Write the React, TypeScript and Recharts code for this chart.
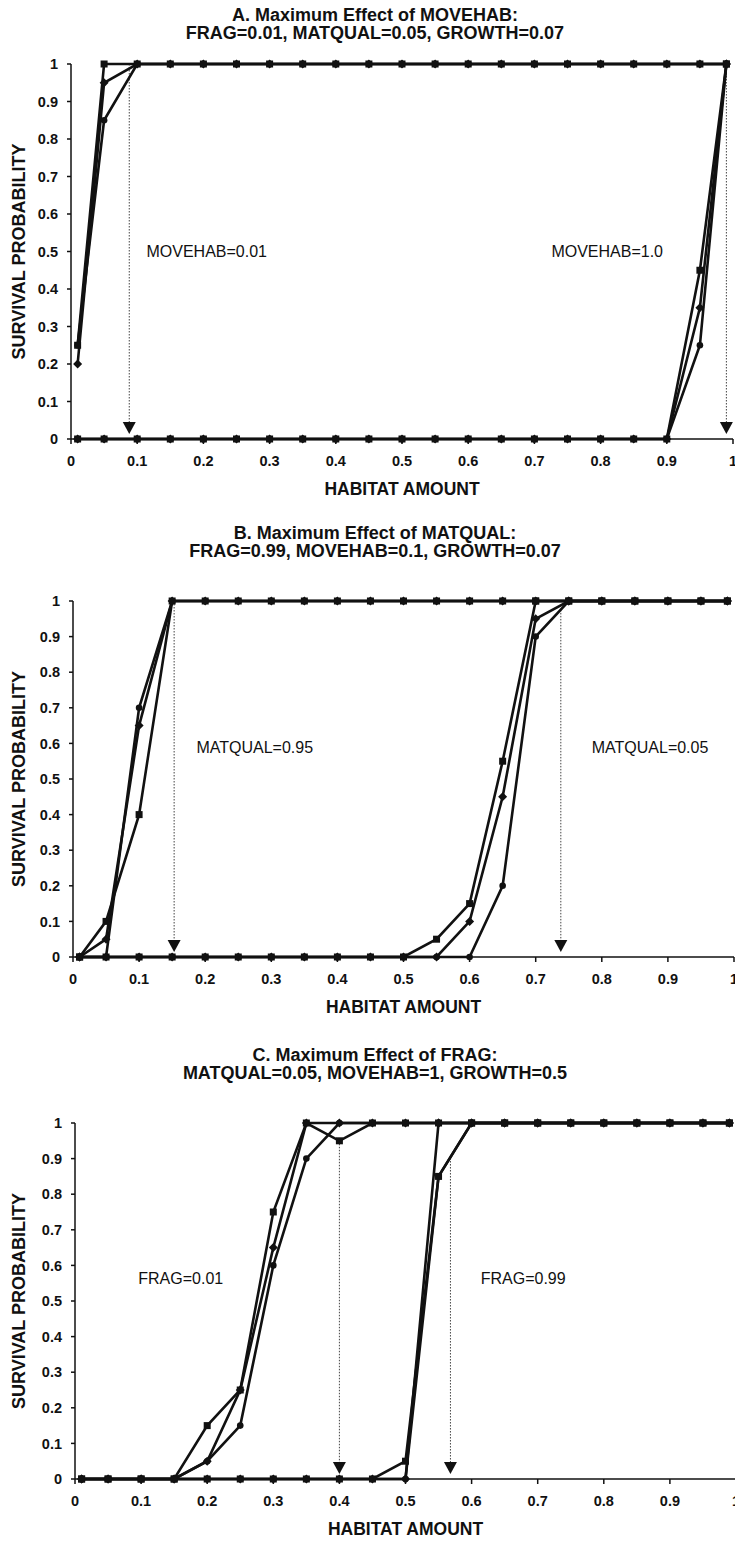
import React from "react";
import { LineChart, Line, XAxis, YAxis, ReferenceLine, ReferenceDot } from "recharts";

const FONT = "'Liberation Sans', Arial, Helvetica, sans-serif";
const INK = "#111";

// habitat amounts sampled by the model
const HABITAT = [0.01, 0.05, 0.1, 0.15, 0.2, 0.25, 0.3, 0.35, 0.4, 0.45, 0.5, 0.55, 0.6, 0.65, 0.7, 0.75, 0.8, 0.85, 0.9, 0.95, 0.99];
const X_TICKS = [0, 0.1, 0.2, 0.3, 0.4, 0.5, 0.6, 0.7, 0.8, 0.9, 1];
const Y_TICKS = [0, 0.1, 0.2, 0.3, 0.4, 0.5, 0.6, 0.7, 0.8, 0.9, 1];

// A. MOVEHAB
const A_MOVE_LOW_1 = [0.25, 1, 1, 1, 1, 1, 1, 1, 1, 1, 1, 1, 1, 1, 1, 1, 1, 1, 1, 1, 1];
const A_MOVE_LOW_2 = [0.2, 0.95, 1, 1, 1, 1, 1, 1, 1, 1, 1, 1, 1, 1, 1, 1, 1, 1, 1, 1, 1];
const A_MOVE_LOW_3 = [0.25, 0.85, 1, 1, 1, 1, 1, 1, 1, 1, 1, 1, 1, 1, 1, 1, 1, 1, 1, 1, 1];
const A_MOVE_HIGH_1 = [0, 0, 0, 0, 0, 0, 0, 0, 0, 0, 0, 0, 0, 0, 0, 0, 0, 0, 0, 0.45, 1];
const A_MOVE_HIGH_2 = [0, 0, 0, 0, 0, 0, 0, 0, 0, 0, 0, 0, 0, 0, 0, 0, 0, 0, 0, 0.35, 1];
const A_MOVE_HIGH_3 = [0, 0, 0, 0, 0, 0, 0, 0, 0, 0, 0, 0, 0, 0, 0, 0, 0, 0, 0, 0.25, 1];

// B. MATQUAL
const B_MAT_HIGH_1 = [0, 0.1, 0.4, 1, 1, 1, 1, 1, 1, 1, 1, 1, 1, 1, 1, 1, 1, 1, 1, 1, 1];
const B_MAT_HIGH_2 = [0, 0.05, 0.65, 1, 1, 1, 1, 1, 1, 1, 1, 1, 1, 1, 1, 1, 1, 1, 1, 1, 1];
const B_MAT_HIGH_3 = [0, 0, 0.7, 1, 1, 1, 1, 1, 1, 1, 1, 1, 1, 1, 1, 1, 1, 1, 1, 1, 1];
const B_MAT_LOW_1 = [0, 0, 0, 0, 0, 0, 0, 0, 0, 0, 0, 0.05, 0.15, 0.55, 1, 1, 1, 1, 1, 1, 1];
const B_MAT_LOW_2 = [0, 0, 0, 0, 0, 0, 0, 0, 0, 0, 0, 0, 0.1, 0.45, 0.95, 1, 1, 1, 1, 1, 1];
const B_MAT_LOW_3 = [0, 0, 0, 0, 0, 0, 0, 0, 0, 0, 0, 0, 0, 0.2, 0.9, 1, 1, 1, 1, 1, 1];

// C. FRAG
const C_FRAG_LOW_1 = [0, 0, 0, 0, 0.15, 0.25, 0.75, 1, 0.95, 1, 1, 1, 1, 1, 1, 1, 1, 1, 1, 1, 1];
const C_FRAG_LOW_2 = [0, 0, 0, 0, 0.05, 0.25, 0.65, 1, 1, 1, 1, 1, 1, 1, 1, 1, 1, 1, 1, 1, 1];
const C_FRAG_LOW_3 = [0, 0, 0, 0, 0.05, 0.15, 0.6, 0.9, 1, 1, 1, 1, 1, 1, 1, 1, 1, 1, 1, 1, 1];
const C_FRAG_HIGH_1 = [0, 0, 0, 0, 0, 0, 0, 0, 0, 0, 0.05, 0.85, 1, 1, 1, 1, 1, 1, 1, 1, 1];
const C_FRAG_HIGH_2 = [0, 0, 0, 0, 0, 0, 0, 0, 0, 0, 0, 1, 1, 1, 1, 1, 1, 1, 1, 1, 1];
const C_FRAG_HIGH_3 = [0, 0, 0, 0, 0, 0, 0, 0, 0, 0, 0, 0.85, 1, 1, 1, 1, 1, 1, 1, 1, 1];

const tickFmt = (v: number) => String(Math.round(v * 10) / 10);

type Marker = "square" | "diamond" | "circle";

function makeDot(kind: Marker) {
  return (p: any) => {
    const { cx, cy, index } = p;
    if (cx == null || cy == null) return <g key={`n-${index}`} />;
    if (kind === "square")
      return <rect key={`s-${index}`} x={cx - 3.5} y={cy - 3.5} width={7} height={7} fill={INK} />;
    if (kind === "diamond")
      return (
        <polygon
          key={`d-${index}`}
          points={`${cx},${cy - 4.5} ${cx + 4.5},${cy} ${cx},${cy + 4.5} ${cx - 4.5},${cy}`}
          fill={INK}
        />
      );
    return <circle key={`c-${index}`} cx={cx} cy={cy} r={3.3} fill={INK} />;
  };
}

const MARKERS: Marker[] = ["square", "diamond", "circle"];

const arrowHead = (p: any) => {
  const { cx, cy } = p;
  return (
    <polygon
      points={`${cx - 6.5},${cy - 17} ${cx + 6.5},${cy - 17} ${cx},${cy - 5}`}
      fill={INK}
    />
  );
};

type Note = { x: number; y: number; text: string };
type Arrow = { x: number; from: number };

type PanelProps = {
  titleTop: number;
  title1: string;
  title2: string;
  plotTop: number;
  plotLeft: number;
  plotWidth: number;
  plotHeight: number;
  series: number[][];
  notes: Note[];
  arrows: Arrow[];
};

const CHART_W = 790;
const TOP_PAD = 12;
const X_AXIS_H = 60;

function Panel({ titleTop, title1, title2, plotTop, plotLeft, plotWidth, plotHeight, series, notes, arrows }: PanelProps) {
  const rows = HABITAT.map((h, i) => {
    const r: Record<string, number> = { h };
    series.forEach((s, k) => (r[`s${k}`] = s[i]));
    return r;
  });
  const titleStyle: React.CSSProperties = {
    position: "absolute",
    left: 0,
    width: 750,
    textAlign: "center",
    fontFamily: FONT,
    fontWeight: "bold",
    fontSize: 18,
    lineHeight: "18px",
    color: INK,
    whiteSpace: "nowrap",
  };
  return (
    <>
      <div style={{ ...titleStyle, top: titleTop - 9 }}>{title1}</div>
      <div style={{ ...titleStyle, top: titleTop + 9 }}>{title2}</div>
      <div style={{ position: "absolute", left: 0, top: plotTop - TOP_PAD }}>
        <LineChart
          width={CHART_W}
          height={TOP_PAD + plotHeight + X_AXIS_H}
          data={rows}
          margin={{ top: TOP_PAD, left: 0, bottom: 0, right: CHART_W - plotLeft - plotWidth }}
        >
          <XAxis
            dataKey="h"
            type="number"
            domain={[0, 1]}
            ticks={X_TICKS}
            interval={0}
            tickFormatter={tickFmt}
            height={X_AXIS_H}
            tickSize={5}
            tickMargin={12}
            axisLine={{ stroke: INK, strokeWidth: 1.5 }}
            tickLine={{ stroke: INK, strokeWidth: 1.5 }}
            tick={{ fill: INK, fontFamily: FONT, fontSize: 14.5, fontWeight: "bold" }}
            label={{
              value: "HABITAT AMOUNT",
              position: "insideBottom",
              offset: 4,
              fill: INK,
              fontFamily: FONT,
              fontWeight: "bold",
              fontSize: 17.5,
            }}
          />
          <YAxis
            type="number"
            domain={[0, 1]}
            ticks={Y_TICKS}
            interval={0}
            tickFormatter={tickFmt}
            width={plotLeft}
            tickSize={4}
            tickMargin={9}
            axisLine={{ stroke: INK, strokeWidth: 1.5 }}
            tickLine={{ stroke: INK, strokeWidth: 1.5 }}
            tick={{ fill: INK, fontFamily: FONT, fontSize: 14.5, fontWeight: "bold" }}
            label={{
              value: "SURVIVAL PROBABILITY",
              angle: -90,
              position: "insideLeft",
              offset: 19,
              textAnchor: "middle",
              style: { textAnchor: "middle" },
              fill: INK,
              fontFamily: FONT,
              fontWeight: "bold",
              fontSize: 18,
            }}
          />
          {arrows.map((a, i) => (
            <ReferenceLine
              key={`al-${i}`}
              segment={[
                { x: a.x, y: a.from },
                { x: a.x, y: 0.04 },
              ]}
              stroke="#444"
              strokeWidth={1}
              strokeDasharray="1.5 1.5"
            />
          ))}
          {arrows.map((a, i) => (
            <ReferenceDot key={`ah-${i}`} x={a.x} y={0} r={0} shape={arrowHead} />
          ))}
          {notes.map((n, i) => (
            <ReferenceDot
              key={`n-${i}`}
              x={n.x}
              y={n.y}
              r={0}
              fill="none"
              stroke="none"
              label={{ value: n.text, position: "center", fill: INK, fontFamily: FONT, fontSize: 16 }}
            />
          ))}
          {series.map((_, k) => (
            <Line
              key={k}
              dataKey={`s${k}`}
              type="linear"
              stroke={INK}
              strokeWidth={2.6}
              dot={makeDot(MARKERS[k % 3])}
              activeDot={false}
              isAnimationActive={false}
            />
          ))}
        </LineChart>
      </div>
    </>
  );
}

export default function App() {
  return (
    <div
      style={{
        position: "absolute",
        left: 0,
        top: 0,
        width: 735,
        height: 1542,
        overflow: "hidden",
        background: "#fff",
      }}
    >
      <Panel
        titleTop={15}
        title1="A. Maximum Effect of MOVEHAB:"
        title2="FRAG=0.01, MATQUAL=0.05, GROWTH=0.07"
        plotTop={64}
        plotLeft={71}
        plotWidth={662}
        plotHeight={375}
        series={[A_MOVE_LOW_1, A_MOVE_LOW_2, A_MOVE_LOW_3, A_MOVE_HIGH_1, A_MOVE_HIGH_2, A_MOVE_HIGH_3]}
        notes={[
          { x: 0.205, y: 0.5, text: "MOVEHAB=0.01" },
          { x: 0.81, y: 0.5, text: "MOVEHAB=1.0" },
        ]}
        arrows={[
          { x: 0.088, from: 1 },
          { x: 0.99, from: 1 },
        ]}
      />
      <Panel
        titleTop={533}
        title1="B. Maximum Effect of MATQUAL:"
        title2="FRAG=0.99, MOVEHAB=0.1, GROWTH=0.07"
        plotTop={601}
        plotLeft={73}
        plotWidth={661}
        plotHeight={356}
        series={[B_MAT_HIGH_1, B_MAT_HIGH_2, B_MAT_HIGH_3, B_MAT_LOW_1, B_MAT_LOW_2, B_MAT_LOW_3]}
        notes={[
          { x: 0.275, y: 0.59, text: "MATQUAL=0.95" },
          { x: 0.873, y: 0.59, text: "MATQUAL=0.05" },
        ]}
        arrows={[
          { x: 0.153, from: 1 },
          { x: 0.738, from: 0.975 },
        ]}
      />
      <Panel
        titleTop={1055}
        title1="C. Maximum Effect of FRAG:"
        title2="MATQUAL=0.05, MOVEHAB=1, GROWTH=0.5"
        plotTop={1123}
        plotLeft={75}
        plotWidth={661}
        plotHeight={356}
        series={[C_FRAG_LOW_1, C_FRAG_LOW_2, C_FRAG_LOW_3, C_FRAG_HIGH_1, C_FRAG_HIGH_2, C_FRAG_HIGH_3]}
        notes={[
          { x: 0.16, y: 0.565, text: "FRAG=0.01" },
          { x: 0.678, y: 0.565, text: "FRAG=0.99" },
        ]}
        arrows={[
          { x: 0.4, from: 0.95 },
          { x: 0.568, from: 0.91 },
        ]}
      />
    </div>
  );
}
